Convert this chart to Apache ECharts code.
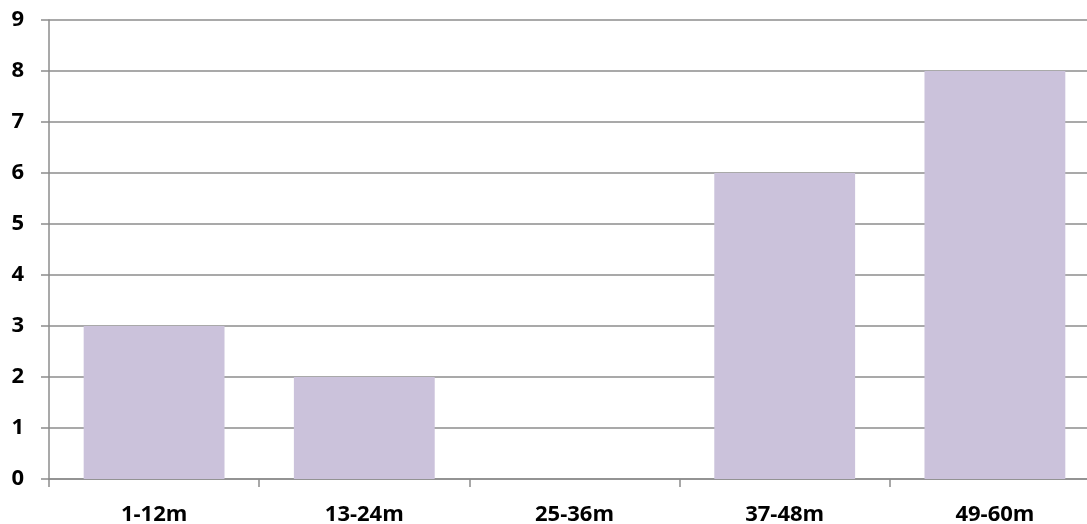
<!DOCTYPE html>
<html>
<head>
<meta charset="utf-8">
<script src="https://cdn.jsdelivr.net/npm/echarts@6/dist/echarts.min.js"></script>
<style>
html,body{margin:0;padding:0;background:#fff;overflow:hidden;width:1087px;height:524px;}
#chart{width:1100px;height:524px;}
</style>
</head>
<body>
<div id="chart"></div>
<script>
const categories = ['1-12m', '13-24m', '25-36m', '37-48m', '49-60m'];
const values = [3, 2, 0, 6, 8];
const yTicks = [0, 1, 2, 3, 4, 5, 6, 7, 8, 9];

const chart = echarts.init(document.getElementById('chart'), null, {renderer: 'canvas'});
chart.setOption({
  animation: false,
  grid: {left: 49, top: 20, right: 0, bottom: 45, containLabel: false, outerBoundsMode: 'none'},
  xAxis: {
    type: 'category',
    data: categories,
    axisLine: {show: true, lineStyle: {color: '#8c8c8c', width: 1.5}},
    axisTick: {show: true, alignWithLabel: false, length: 8, lineStyle: {color: '#8c8c8c', width: 1.5}},
    axisLabel: {
      color: '#000', fontFamily: 'Open Sans', fontWeight: 'bold', fontSize: 22, margin: 25
    },
    splitLine: {show: false}
  },
  yAxis: {
    type: 'value',
    min: yTicks[0],
    max: yTicks[yTicks.length - 1],
    interval: 1,
    axisLine: {show: true, lineStyle: {color: '#8c8c8c', width: 1.5}},
    axisTick: {show: true, length: 8, lineStyle: {color: '#8c8c8c', width: 1.5}},
    axisLabel: {
      color: '#000', fontFamily: 'Open Sans', fontWeight: 'bold', fontSize: 22, margin: 25
    },
    splitLine: {show: true, lineStyle: {color: '#8c8c8c', width: 1.5}}
  },
  series: [{
    type: 'bar',
    data: values,
    barWidth: '67%',
    itemStyle: {color: '#CBC2DB'}
  }]
});
</script>
</body>
</html>
